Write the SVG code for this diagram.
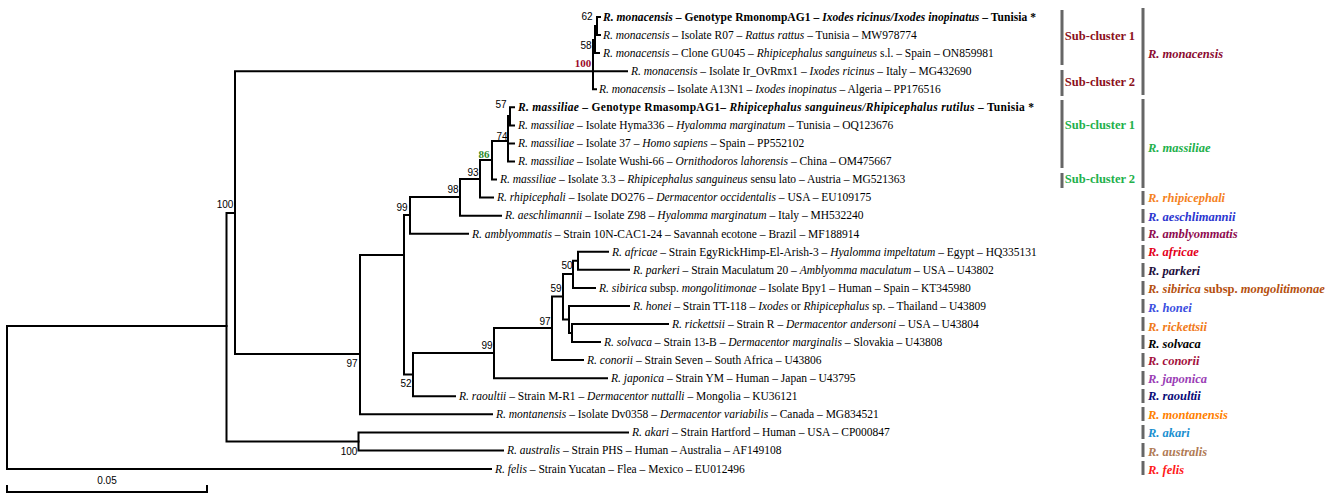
<svg xmlns="http://www.w3.org/2000/svg" width="1325" height="499" viewBox="0 0 1325 499">
<style>
.lf{font-family:"Liberation Serif","Times New Roman",serif;font-size:11.5px;fill:#000}
.bd{font-weight:bold}
.it{font-style:italic}
.bs{font-family:"Liberation Sans",Arial,sans-serif;font-size:10px;fill:#000;text-anchor:middle}
.bsr{font-family:"Liberation Serif","Times New Roman",serif;font-size:11px;font-weight:bold;text-anchor:middle}
.br{stroke:#000;stroke-width:2;fill:none;stroke-linecap:square}
.bar{stroke:#666;stroke-width:3;fill:none}
.cl{font-family:"Liberation Serif","Times New Roman",serif;font-size:12.5px;font-weight:bold;font-style:italic}
.sc{font-family:"Liberation Serif","Times New Roman",serif;font-size:12.5px;font-weight:bold;text-anchor:middle}
</style>
<rect width="1325" height="499" fill="#fff"/>
<g id="connectors" class="br">
<path d="M7,326 V469 M7,326 H226.5 M7,469 H491"/>
<path d="M226.5,213 V441.4 M226.5,213 H235 M226.5,441.4 H358.5"/>
<path d="M358.5,432.4 V450.4 M358.5,432.4 H628 M358.5,450.4 H503"/>
<path d="M235,71.2 V354 M235,71.2 H593 M235,354 H360"/>
<path d="M593,40 V89.2 M593,71.2 H627 M593,89.2 H596"/>
<path d="M595,26 V53.1 M593,40 H595 M595,53.1 H599"/>
<path d="M597,17 V35.1 M595,26 H597 M597,17 H600 M597,35.1 H600"/>
<path d="M360,255 V414.3 M360,414.3 H492 M360,255 H404"/>
<path d="M404,215 V374.5 M404,215 H410 M404,374.5 H413"/>
<path d="M410,197 V233.7 M410,233.7 H468 M410,197 H460"/>
<path d="M460,179 V215.7 M460,215.7 H501 M460,179 H480"/>
<path d="M480,160 V197.6 M480,197.6 H493 M480,160 H492"/>
<path d="M492,141 V179.5 M492,179.5 H496 M492,141 H508"/>
<path d="M508,116 V161.5 M508,143.4 H514 M508,161.5 H514 M508,116 H510"/>
<path d="M510,107.3 V125.4 M510,107.3 H514 M510,125.4 H514"/>
<path d="M413,353 V396.3 M413,396.3 H455 M413,353 H494"/>
<path d="M494,328 V378.2 M494,378.2 H607 M494,328 H552"/>
<path d="M552,296.5 V360.1 M552,360.1 H583 M552,296.5 H563"/>
<path d="M563,274 V319.5 M563,274 H573 M563,319.5 H569"/>
<path d="M573,260.8 V287.9 M573,287.9 H595 M573,260.8 H578"/>
<path d="M578,251.8 V269.8 M578,251.8 H608 M578,269.8 H629"/>
<path d="M569,306 V333 M569,306 H629 M569,333 H572"/>
<path d="M572,324 V342.1 M572,324 H668 M572,342.1 H600"/>
</g>
<g id="bootstrap">
<text class="bs" x="587" y="20">62</text>
<text class="bs" x="586" y="49">58</text>
<text class="bsr" x="583" y="67" fill="#9b0a2a">100</text>
<text class="bs" x="501" y="108">57</text>
<text class="bs" x="502" y="140">74</text>
<text class="bsr" x="484" y="158" fill="#2a8a2a">86</text>
<text class="bs" x="473" y="176">93</text>
<text class="bs" x="453" y="193">98</text>
<text class="bs" x="402" y="211">99</text>
<text class="bs" x="225" y="208">100</text>
<text class="bs" x="352" y="367">97</text>
<text class="bs" x="406" y="387">52</text>
<text class="bs" x="349" y="455">100</text>
<text class="bs" x="487" y="349">99</text>
<text class="bs" x="545" y="325">97</text>
<text class="bs" x="556" y="292">59</text>
<text class="bs" x="567" y="269">50</text>
</g>
<g id="leaves" class="lf">
<text id="n1" class="bd" x="603" y="21" textLength="433" lengthAdjust="spacing"><tspan class="it">R. monacensis</tspan> – Genotype RmonompAG1 – <tspan class="it">Ixodes ricinus/Ixodes inopinatus</tspan> – Tunisia *</text>
<text id="n2" x="603" y="39"><tspan class="it">R. monacensis</tspan> – Isolate R07 – <tspan class="it">Rattus rattus</tspan> – Tunisia – MW978774</text>
<text id="n3" x="603" y="57"><tspan class="it">R. monacensis</tspan> – Clone GU045 – <tspan class="it">Rhipicephalus sanguineus</tspan> s.l. – Spain – ON859981</text>
<text id="n4" x="631" y="75"><tspan class="it">R. monacensis</tspan> – Isolate Ir_OvRmx1 – <tspan class="it">Ixodes ricinus</tspan> – Italy – MG432690</text>
<text id="n5" x="599" y="93"><tspan class="it">R. monacensis</tspan> – Isolate A13N1 – <tspan class="it">Ixodes inopinatus</tspan> – Algeria – PP176516</text>
<text id="n6" class="bd" x="518" y="111" textLength="516" lengthAdjust="spacing"><tspan class="it">R. massiliae</tspan> – Genotype RmasompAG1– <tspan class="it">Rhipicephalus sanguineus/Rhipicephalus rutilus</tspan> – Tunisia *</text>
<text id="n7" x="518" y="129"><tspan class="it">R. massiliae</tspan> – Isolate Hyma336 – <tspan class="it">Hyalomma marginatum</tspan> – Tunisia – OQ123676</text>
<text id="n8" x="518" y="147"><tspan class="it">R. massiliae</tspan> – Isolate 37 – <tspan class="it">Homo sapiens</tspan> – Spain – PP552102</text>
<text id="n9" x="518" y="165"><tspan class="it">R. massiliae</tspan> – Isolate Wushi-66 – <tspan class="it">Ornithodoros lahorensis</tspan> – China – OM475667</text>
<text id="n10" x="500" y="183"><tspan class="it">R. massiliae</tspan> – Isolate 3.3 – <tspan class="it">Rhipicephalus sanguineus</tspan> sensu lato – Austria – MG521363</text>
<text id="n11" x="497" y="201"><tspan class="it">R. rhipicephali</tspan> – Isolate DO276 – <tspan class="it">Dermacentor occidentalis</tspan> – USA – EU109175</text>
<text id="n12" x="505" y="219"><tspan class="it">R. aeschlimannii</tspan> – Isolate Z98 – <tspan class="it">Hyalomma marginatum</tspan> – Italy – MH532240</text>
<text id="n13" x="472" y="238"><tspan class="it">R. amblyommatis</tspan> – Strain 10N-CAC1-24 – Savannah ecotone – Brazil – MF188914</text>
<text id="n14" x="612" y="256"><tspan class="it">R. africae</tspan> – Strain EgyRickHimp-El-Arish-3 – <tspan class="it">Hyalomma impeltatum</tspan> – Egypt – HQ335131</text>
<text id="n15" x="633" y="274"><tspan class="it">R. parkeri</tspan> – Strain Maculatum 20 – <tspan class="it">Amblyomma maculatum</tspan> – USA – U43802</text>
<text id="n16" x="599" y="292"><tspan class="it">R. sibirica</tspan> subsp. <tspan class="it">mongolitimonae</tspan> – Isolate Bpy1 – Human – Spain – KT345980</text>
<text id="n17" x="633" y="310"><tspan class="it">R. honei</tspan> – Strain TT-118 – <tspan class="it">Ixodes</tspan> or <tspan class="it">Rhipicephalus</tspan> sp. – Thailand – U43809</text>
<text id="n18" x="672" y="328"><tspan class="it">R. rickettsii</tspan> – Strain R – <tspan class="it">Dermacentor andersoni</tspan> – USA – U43804</text>
<text id="n19" x="604" y="346"><tspan class="it">R. solvaca</tspan> – Strain 13-B – <tspan class="it">Dermacentor marginalis</tspan> – Slovakia – U43808</text>
<text id="n20" x="587" y="364"><tspan class="it">R. conorii</tspan> – Strain Seven – South Africa – U43806</text>
<text id="n21" x="611" y="382"><tspan class="it">R. japonica</tspan> – Strain YM – Human – Japan – U43795</text>
<text id="n22" x="459" y="400"><tspan class="it">R. raoultii</tspan> – Strain M-R1 – <tspan class="it">Dermacentor nuttalli</tspan> – Mongolia – KU36121</text>
<text id="n23" x="496" y="418"><tspan class="it">R. montanensis</tspan> – Isolate Dv0358 – <tspan class="it">Dermacentor variabilis</tspan> – Canada – MG834521</text>
<text id="n24" x="632" y="436"><tspan class="it">R. akari</tspan> – Strain Hartford – Human – USA – CP000847</text>
<text id="n25" x="507" y="454"><tspan class="it">R. australis</tspan> – Strain PHS – Human – Australia – AF149108</text>
<text id="n26" x="495" y="473"><tspan class="it">R. felis</tspan> – Strain Yucatan – Flea – Mexico – EU012496</text>
</g>
<g id="scale">
<path class="br" d="M7,486 V492 H207 V486"/>
<text class="bs" x="107" y="484">0.05</text>
</g>
<g id="clusters">
<path class="bar" d="M1062,10 V65 M1062,70 V96 M1143,8 V95 M1062,100 V168 M1062,173 V188 M1143,99 V188"/>
<path class="bar" d="M1143,191 V205 M1143,209 V223 M1143,227 V241 M1143,245 V259 M1143,263 V277 M1143,281 V295 M1143,299 V313 M1143,317 V331 M1143,335 V349 M1143,353 V367 M1143,371 V385 M1143,389 V403 M1143,407 V421 M1143,425 V439 M1143,443 V457 M1143,461 V475"/>
<text class="sc" x="1100" y="40" fill="#8b1020">Sub-cluster 1</text>
<text class="sc" x="1100" y="86" fill="#8b1020">Sub-cluster 2</text>
<text class="sc" x="1100" y="129" fill="#22b04b">Sub-cluster 1</text>
<text class="sc" x="1100" y="183" fill="#22b04b">Sub-cluster 2</text>
<text class="cl" x="1148" y="58" fill="#8b0a30">R. monacensis</text>
<text class="cl" x="1148" y="152" fill="#22b04b">R. massiliae</text>
<text class="cl" x="1148" y="202" fill="#f5821f">R. rhipicephali</text>
<text class="cl" x="1148" y="221" fill="#2b35d0">R. aeschlimannii</text>
<text class="cl" x="1148" y="238" fill="#8e0a4e">R. amblyommatis</text>
<text class="cl" x="1148" y="256" fill="#e4001b">R. africae</text>
<text class="cl" x="1148" y="275" fill="#1e0f3c">R. parkeri</text>
<text class="cl" x="1148" y="293" fill="#b5500f">R. sibirica <tspan font-style="normal">subsp.</tspan> mongolitimonae</text>
<text class="cl" x="1148" y="312" fill="#3a4ee0">R. honei</text>
<text class="cl" x="1148" y="331" fill="#f07a1a">R. rickettsii</text>
<text class="cl" x="1148" y="348" fill="#000">R. solvaca</text>
<text class="cl" x="1148" y="365" fill="#a3103c">R. conorii</text>
<text class="cl" x="1148" y="383" fill="#9a3db5">R. japonica</text>
<text class="cl" x="1148" y="400" fill="#0a0a78">R. raoultii</text>
<text class="cl" x="1148" y="419" fill="#ff7f00">R. montanensis</text>
<text class="cl" x="1148" y="437" fill="#1a8fd0">R. akari</text>
<text class="cl" x="1148" y="456" fill="#b07a55">R. australis</text>
<text class="cl" x="1148" y="474" fill="#ff1a1a">R. felis</text>
</g>
</svg>
